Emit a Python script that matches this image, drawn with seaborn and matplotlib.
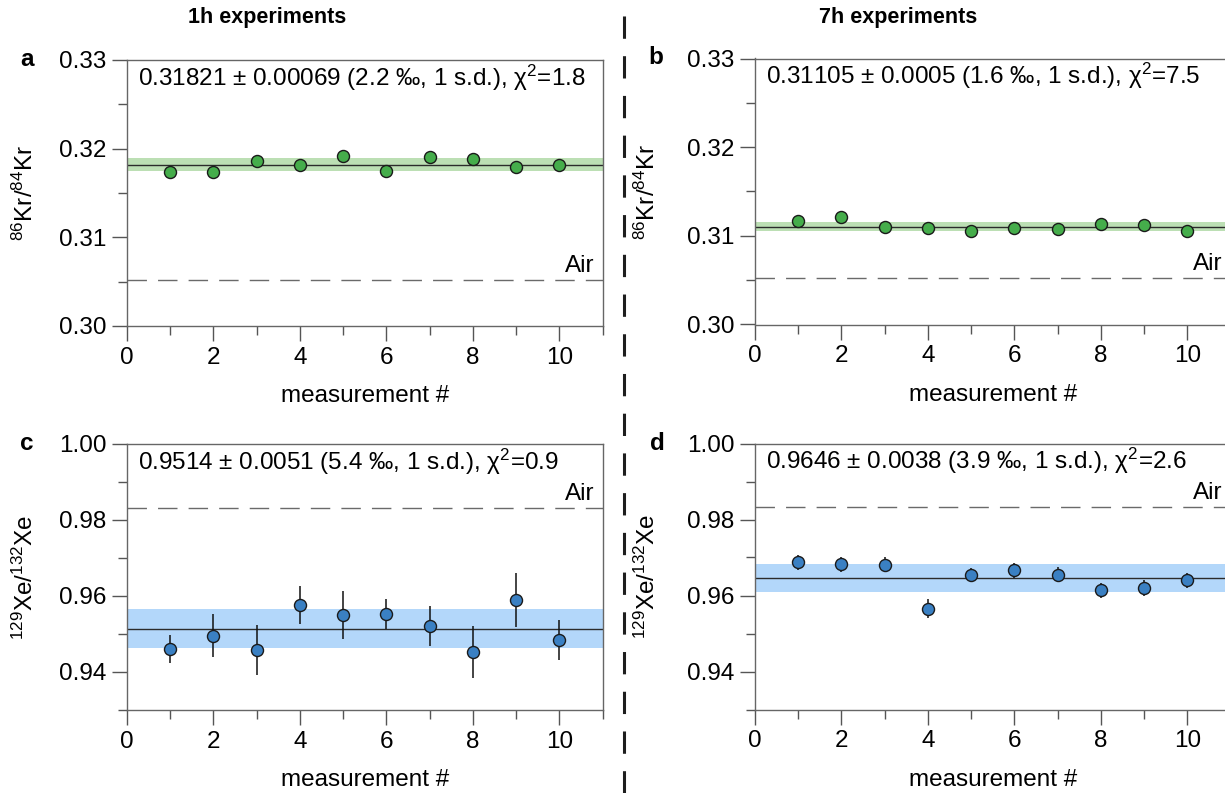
import numpy as np
import matplotlib
matplotlib.use("Agg")
import matplotlib.pyplot as plt
from matplotlib.lines import Line2D
from matplotlib.ticker import MultipleLocator, FormatStrFormatter
import seaborn as sns

# ----------------------------------------------------------------------------
# Data
# ----------------------------------------------------------------------------
measurement = np.arange(1, 11)

kr_1h = [0.31734, 0.31734, 0.31865, 0.31820, 0.31914,
         0.31752, 0.31906, 0.31887, 0.31790, 0.31813]
kr_7h = [0.31166, 0.31208, 0.31103, 0.31088, 0.31058,
         0.31084, 0.31073, 0.31137, 0.31118, 0.31051]

xe_1h = [0.94605, 0.94955, 0.94579, 0.95755, 0.95500,
         0.95518, 0.95218, 0.94534, 0.95895, 0.94842]
xe_1h_err = [0.0038, 0.0057, 0.0065, 0.0050, 0.0062,
             0.0039, 0.0053, 0.0068, 0.0070, 0.0052]
xe_7h = [0.96869, 0.96824, 0.96808, 0.95654, 0.96535,
         0.96659, 0.96546, 0.96134, 0.96186, 0.96396]
xe_7h_err = [0.0019, 0.0020, 0.0020, 0.0025, 0.0019,
             0.0020, 0.0020, 0.0020, 0.0021, 0.0020]

kr_1h_mean, kr_1h_sd = 0.31821, 0.00069
kr_7h_mean, kr_7h_sd = 0.31105, 0.0005
xe_1h_mean, xe_1h_sd = 0.9514, 0.0051
xe_7h_mean, xe_7h_sd = 0.9646, 0.0038

kr_air = 0.3052
xe_air = 0.9832

# ----------------------------------------------------------------------------
# Style
# ----------------------------------------------------------------------------
sns.set_style("white")
plt.rcParams['font.family'] = ['Liberation Sans', 'DejaVu Sans']
plt.rcParams['mathtext.fontset'] = 'custom'
plt.rcParams['mathtext.rm'] = 'Liberation Sans'
plt.rcParams['mathtext.it'] = 'Liberation Sans:italic'
plt.rcParams['font.size'] = 17.5
plt.rcParams['text.color'] = 'black'
plt.rcParams['axes.labelcolor'] = 'black'

green, green_band = '#45ad4b', '#bcdfb4'
blue, blue_band = '#3a80c3', '#b3d7fa'

fig = plt.figure(figsize=(12.25, 7.93), dpi=100)

W, H = 1225, 793
ax_w, ax_h = 475.6 / W, 266 / H
ax_a = fig.add_axes([127 / W, 1 - 326 / H, ax_w, ax_h])
ax_b = fig.add_axes([755 / W, 1 - 324.5 / H, ax_w, ax_h])
ax_c = fig.add_axes([127 / W, 1 - 710 / H, ax_w, ax_h])
ax_d = fig.add_axes([755 / W, 1 - 709.5 / H, ax_w, ax_h])


def draw_panel(ax, y, err, mean, sd, air, color, band, ylim, major, minor,
               ylabel, text, label_x):
    ax.axhspan(mean - sd, mean + sd, color=band, lw=0, zorder=1)
    ax.axhline(mean, color='#2b2b2b', lw=1.0, zorder=2)
    ax.axhline(air, color='#6a6a6a', lw=1.0, dashes=(14, 8), zorder=2)
    if err is not None:
        ax.errorbar(measurement, y, yerr=err, fmt='none', ecolor='#111111',
                    elinewidth=1.1, capsize=0, zorder=3)
    sns.scatterplot(x=measurement, y=y, ax=ax, s=75, color=color,
                    edgecolor='#1a1a1a', linewidth=1, zorder=4, legend=False)

    ax.set_xlim(0, 11)
    ax.set_ylim(*ylim)
    ax.xaxis.set_major_locator(MultipleLocator(2))
    ax.xaxis.set_minor_locator(MultipleLocator(1))
    ax.yaxis.set_major_locator(MultipleLocator(major))
    ax.yaxis.set_minor_locator(MultipleLocator(minor))
    ax.yaxis.set_major_formatter(FormatStrFormatter('%.2f'))
    ax.tick_params(which='major', direction='out', length=11, width=1,
                   color='#555555', labelcolor='black', pad=4, labelsize=17.5)
    ax.tick_params(which='minor', direction='out', length=6.5, width=1,
                   color='#555555')
    ax.tick_params(which='both', bottom=True, left=True, top=False, right=False)
    for sp in ax.spines.values():
        sp.set_color('#666666')
        sp.set_linewidth(1)

    ax.set_xlabel('measurement #')
    ax.xaxis.set_label_coords(0.5, -0.222)
    ax.xaxis.label.set_va('top')
    ax.set_ylabel(ylabel)
    ax.yaxis.set_label_coords(label_x, 0.5)

    ax.text(0.023, 0.903, text, transform=ax.transAxes, ha='left',
            va='baseline')
    off = (ylim[1] - ylim[0]) * 8 / 266
    ax.text(0.983, air + off, 'Air', transform=ax.get_yaxis_transform(),
            ha='right', va='baseline')


kr_label = r'$^{86}$Kr/$^{84}$Kr'
xe_label = r'$^{129}$Xe/$^{132}$Xe'

draw_panel(ax_a, kr_1h, None, kr_1h_mean, kr_1h_sd, kr_air, green, green_band,
           (0.30, 0.33), 0.01, 0.005, kr_label,
           '0.31821 \u00b1 0.00069 (2.2 \u2030, 1 s.d.), \u03c7$^2$=1.8', -0.187)
draw_panel(ax_b, kr_7h, None, kr_7h_mean, kr_7h_sd, kr_air, green, green_band,
           (0.30, 0.33), 0.01, 0.005, kr_label,
           '0.31105 \u00b1 0.0005 (1.6 \u2030, 1 s.d.), \u03c7$^2$=7.5', -0.20)
draw_panel(ax_c, xe_1h, xe_1h_err, xe_1h_mean, xe_1h_sd, xe_air, blue, blue_band,
           (0.93, 1.00), 0.02, 0.01, xe_label,
           '0.9514 \u00b1 0.0051 (5.4 \u2030, 1 s.d.), \u03c7$^2$=0.9', -0.187)
draw_panel(ax_d, xe_7h, xe_7h_err, xe_7h_mean, xe_7h_sd, xe_air, blue, blue_band,
           (0.93, 1.00), 0.02, 0.01, xe_label,
           '0.9646 \u00b1 0.0038 (3.9 \u2030, 1 s.d.), \u03c7$^2$=2.6', -0.20)

# Panel letters and column titles
for letter, x, y in [('a', 27, 60), ('b', 656, 57), ('c', 27, 443), ('d', 657, 443)]:
    fig.text(x / W, 1 - y / H, letter, ha='center', va='center',
             fontweight='bold', fontsize=17.5)

fig.text(267 / W, 1 - 17 / H, '1h experiments', ha='center', va='center',
         fontweight='bold', fontsize=15.5)
fig.text(898 / W, 1 - 17 / H, '7h experiments', ha='center', va='center',
         fontweight='bold', fontsize=15.5)

# Dashed separator between the two columns
fig.add_artist(Line2D([624 / W, 624 / W], [0, 1], transform=fig.transFigure,
                      color='#1e1e1e', lw=2.2, dashes=(7.3, 5.7)))

fig.savefig('out.png', dpi=100)
